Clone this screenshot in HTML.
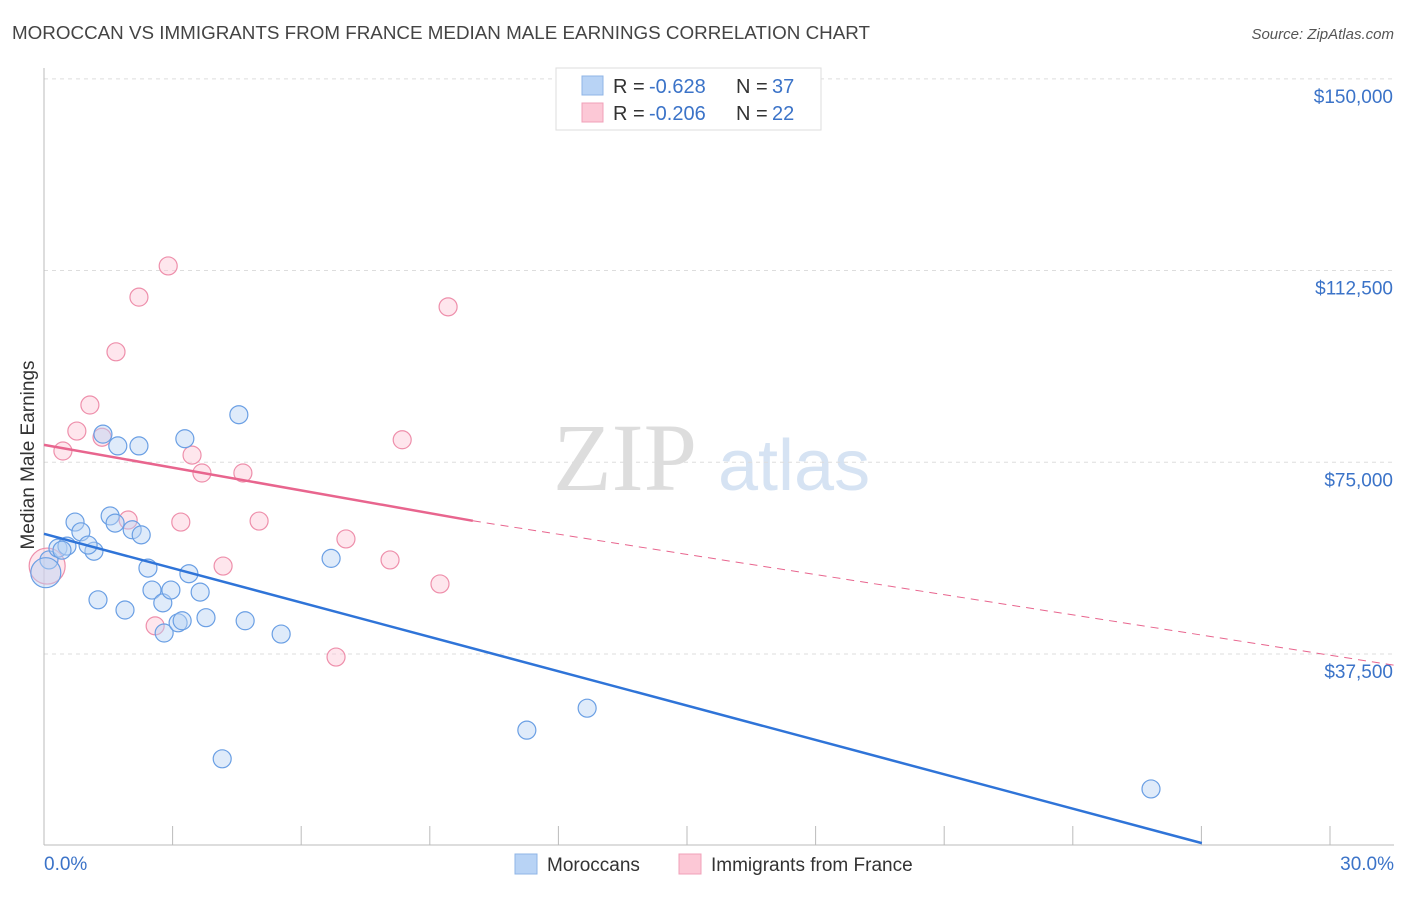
<!DOCTYPE html>
<html><head><meta charset="utf-8"><style>
body{margin:0;background:#fff;font-family:"Liberation Sans",sans-serif}
</style></head><body>
<svg width="1406" height="892" xmlns="http://www.w3.org/2000/svg" font-family="Liberation Sans, sans-serif">
<text x="12" y="39" font-size="18" fill="#444" textLength="858" lengthAdjust="spacingAndGlyphs">MOROCCAN VS IMMIGRANTS FROM FRANCE MEDIAN MALE EARNINGS CORRELATION CHART</text>
<text x="1394" y="39" font-size="15" fill="#555" text-anchor="end" font-style="italic">Source: ZipAtlas.com</text>
<text x="553" y="490" font-size="96" fill="#ddd" font-family="Liberation Serif, serif">ZIP</text>
<text x="718" y="490" font-size="72" fill="#d6e3f3">atlas</text>
<g id="grid"></g>
<g id="axes"></g>
<g id="marks"></g>
<text transform="translate(34,455) rotate(-90)" font-size="19" fill="#333" text-anchor="middle">Median Male Earnings</text>
<text x="44" y="870" font-size="19" fill="#3b73c8">0.0%</text>
<text x="1394" y="870" font-size="19" fill="#3b73c8" text-anchor="end">30.0%</text>
<g>
<rect x="556" y="68" width="265" height="62" fill="#fff" stroke="#ddd"/>
<rect x="582" y="76" width="21" height="19" fill="#b8d3f5" stroke="#8fb4e6"/>
<rect x="582" y="103" width="21" height="19" fill="#fcc8d6" stroke="#f0a0b8"/>
<text x="613" y="93" font-size="20" fill="#333">R =</text>
<text x="649" y="93" font-size="20" fill="#3b73c8">-0.628</text>
<text x="736" y="93" font-size="20" fill="#333">N =</text>
<text x="772" y="93" font-size="20" fill="#3b73c8">37</text>
<text x="613" y="120" font-size="20" fill="#333">R =</text>
<text x="649" y="120" font-size="20" fill="#3b73c8">-0.206</text>
<text x="736" y="120" font-size="20" fill="#333">N =</text>
<text x="772" y="120" font-size="20" fill="#3b73c8">22</text>
</g>
<g>
<rect x="515" y="854" width="22" height="20" fill="#b8d3f5" stroke="#8fb4e6"/>
<text x="547" y="871" font-size="19" fill="#333">Moroccans</text>
<rect x="679" y="854" width="22" height="20" fill="#fcc8d6" stroke="#f0a0b8"/>
<text x="711" y="871" font-size="19" fill="#333">Immigrants from France</text>
</g>
</svg>
<script>
const yTicks=[37500,75000,112500,150000];
const yTickLabels=["$37,500","$75,000","$112,500","$150,000"];
const blueX=[0.11,0.31,0.69,0.82,0.51,1.11,1.20,1.31,1.47,1.64,1.58,1.80,1.96,2.11,2.16,2.31,2.40,2.64,2.67,2.82,2.98,3.07,3.13,3.22,3.47,3.60,3.96,4.33,4.47,5.27,6.38,10.73,12.07,24.60,0.04,0.98,0.40];
const blueY=[55.9,58.2,63.3,61.4,58.6,57.6,48.1,80.5,64.5,78.2,63.1,46.1,61.8,78.2,60.8,54.3,50.0,47.5,41.6,50.0,43.6,44.0,79.6,53.2,49.6,44.6,17.0,84.3,44.0,41.4,56.2,22.6,26.9,11.1,53.4,58.8,57.8];
const pinkX=[0.07,0.42,0.73,1.02,1.60,1.29,1.87,2.11,2.47,2.76,3.04,3.29,3.51,3.98,4.42,4.78,6.49,6.71,7.69,7.96,8.80,8.98];
const pinkY=[54.7,77.2,81.1,86.2,96.6,79.9,63.7,107.3,43.0,113.4,63.3,76.4,72.9,54.7,72.9,63.5,36.9,60.0,55.9,79.4,51.2,105.4];
const blueTrend=[[0,61.0],[25.73,0.5]];
const pinkTrend=[[0,78.4],[9.53,63.55],[30,35.3]];
const NS="http://www.w3.org/2000/svg";
const sx=v=>44+v*45;
function Y(k){return 845.7-k/0.1956;}
function mk(t,a,p){const e=document.createElementNS(NS,t);for(const k in a)e.setAttribute(k,a[k]);p.appendChild(e);return e;}
const grid=document.getElementById('grid'),axes=document.getElementById('axes'),marks=document.getElementById('marks');
yTicks.forEach((t,i)=>{const y=Y(t/1000);
const l=mk('line',{x1:44,x2:1394,y1:y,y2:y,stroke:'#ddd','stroke-dasharray':'4,4'},grid);


const tx=mk('text',{x:1393,y:y+24,'font-size':19,fill:'#3b73c8','text-anchor':'end'},grid);tx.textContent=yTickLabels[i];

});
const ax=mk('line',{x1:44,x2:44,y1:68,y2:845,stroke:'#bbb'},axes);


const bx=mk('line',{x1:44,x2:1394,y1:845,y2:845,stroke:'#bbb'},axes);


for(let i=0;i<=10;i++){const x=44+i*128.6;const t=mk('line',{x1:x,x2:x,y1:826,y2:845,stroke:'#bbb'},axes);

}
function pts(xs,ys,fill,stroke,name){xs.forEach((x,i)=>{const big=(x<0.1);const c=mk('circle',{cx:sx(x),cy:Y(ys[i]),r:big?(name=='pink-point'?18:15):9,fill:fill,'fill-opacity':0.45,stroke:stroke,'stroke-width':1.2},marks);

});}
pts(pinkX,pinkY,'#fcc8d6','#ee8fab','pink-point');
pts(blueX,blueY,'#b8d3f5','#6a9fe4','blue-point');
const bl=mk('line',{x1:sx(blueTrend[0][0]),y1:Y(blueTrend[0][1]),x2:sx(blueTrend[1][0]),y2:Y(blueTrend[1][1]),stroke:'#2f74d8','stroke-width':2.5},marks);


const pl=mk('line',{x1:sx(pinkTrend[0][0]),y1:Y(pinkTrend[0][1]),x2:sx(pinkTrend[1][0]),y2:Y(pinkTrend[1][1]),stroke:'#e8658e','stroke-width':2.5},marks);


const pd=mk('line',{x1:sx(pinkTrend[1][0]),y1:Y(pinkTrend[1][1]),x2:sx(pinkTrend[2][0]),y2:Y(pinkTrend[2][1]),stroke:'#e8658e','stroke-width':1,'stroke-dasharray':'8,6'},marks);


</script>
</body></html>
